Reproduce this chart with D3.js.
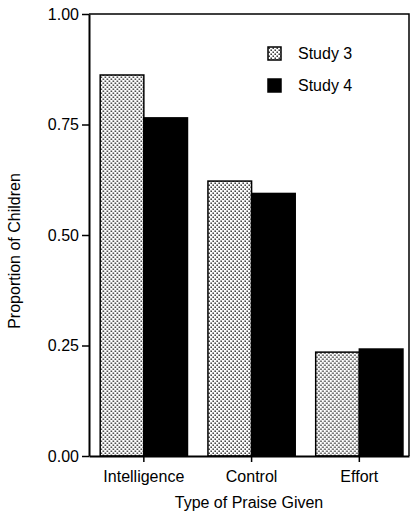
<!DOCTYPE html>
<html>
<head>
<meta charset="utf-8">
<script src="https://cdn.jsdelivr.net/npm/d3@7"></script>
<style>
  body { margin: 0; background: #fff; }
  svg { display: block; font-family: "Liberation Sans", Arial, sans-serif; }
</style>
</head>
<body>
<svg></svg>
<script>
const width = 414;
const height = 512;

const categories = ["Intelligence", "Control", "Effort"];
const seriesNames = ["Study 3", "Study 4"];
const study3 = [0.862, 0.622, 0.235];
const study4 = [0.765, 0.594, 0.242];
const yTicks = [0, 0.25, 0.5, 0.75, 1];

const plotLeft = 89, plotRight = 409, plotTop = 14, plotBottom = 456;

const svg = d3.select("svg")
    .attr("width", width)
    .attr("height", height);

// stipple pattern for Study 3
const defs = svg.append("defs");
const pat = defs.append("pattern")
    .attr("id", "dots")
    .attr("patternUnits", "userSpaceOnUse")
    .attr("width", 4)
    .attr("height", 4);
pat.append("rect").attr("width", 4).attr("height", 4).attr("fill", "#fff");
pat.append("rect").attr("x", 0.5).attr("y", 0.5).attr("width", 1.4).attr("height", 1.4).attr("fill", "#111");
pat.append("rect").attr("x", 2.5).attr("y", 2.5).attr("width", 1.4).attr("height", 1.4).attr("fill", "#111");

const x0 = d3.scaleBand()
    .domain(categories)
    .range([plotLeft, plotRight])
    .paddingInner(0.19)
    .paddingOuter(0.08)
    .align(0.65);

const x1 = d3.scaleBand()
    .domain(seriesNames)
    .range([0, x0.bandwidth()]);

const y = d3.scaleLinear()
    .domain([0, 1])
    .range([plotBottom, plotTop]);

const data = categories.map((c, i) => ({
    category: c,
    values: [
        { series: "Study 3", value: study3[i] },
        { series: "Study 4", value: study4[i] }
    ]
}));

const fill = { "Study 3": "url(#dots)", "Study 4": "#000" };

// frame (top and right)
svg.append("path")
    .attr("d", `M${plotLeft},${plotTop}H${plotRight}V${plotBottom}`)
    .attr("fill", "none")
    .attr("stroke", "#000")
    .attr("stroke-width", 1.5);

const group = svg.selectAll(".group")
    .data(data)
    .enter().append("g")
    .attr("class", "group")
    .attr("transform", d => `translate(${x0(d.category)},0)`);

group.selectAll("rect")
    .data(d => d.values)
    .enter().append("rect")
    .attr("x", d => x1(d.series))
    .attr("y", d => y(d.value))
    .attr("width", x1.bandwidth())
    .attr("height", d => y(0) - y(d.value))
    .attr("fill", d => fill[d.series])
    .attr("stroke", "#000")
    .attr("stroke-width", 1.5);

// y axis
const yAxis = svg.append("g")
    .attr("transform", `translate(${plotLeft},0)`)
    .call(d3.axisLeft(y).tickValues(yTicks).tickFormat(d3.format(".2f")).tickSize(7).tickPadding(3).tickSizeOuter(0));
yAxis.select(".domain").attr("stroke-width", 2);
yAxis.selectAll(".tick line").attr("stroke-width", 1.5);
yAxis.selectAll("text")
    .attr("fill", "#000")
    .style("font-size", "16px")
    .style("font-family", "Liberation Sans, Arial, sans-serif");

// x axis
const xAxis = svg.append("g")
    .attr("transform", `translate(0,${plotBottom})`)
    .call(d3.axisBottom(x0).tickSize(6).tickPadding(9).tickSizeOuter(0));
xAxis.select(".domain").attr("stroke-width", 2);
xAxis.selectAll(".tick line").attr("stroke-width", 1.5);
xAxis.selectAll("text")
    .attr("fill", "#000")
    .style("font-size", "16px")
    .style("font-family", "Liberation Sans, Arial, sans-serif");

// axis titles
svg.append("text")
    .attr("x", (plotLeft + plotRight) / 2)
    .attr("y", 508)
    .attr("text-anchor", "middle")
    .style("font-size", "16px")
    .text("Type of Praise Given");

svg.append("text")
    .attr("transform", "translate(20,251) rotate(-90)")
    .attr("text-anchor", "middle")
    .style("font-size", "16px")
    .text("Proportion of Children");

// legend
const legend = svg.append("g")
    .attr("transform", "translate(268,47)");

const legendItem = legend.selectAll(".legend-item")
    .data(seriesNames)
    .enter().append("g")
    .attr("class", "legend-item")
    .attr("transform", (d, i) => `translate(0,${i * 32})`);

legendItem.append("rect")
    .attr("width", 13)
    .attr("height", 13)
    .attr("fill", d => fill[d])
    .attr("stroke", "#000")
    .attr("stroke-width", 1.5);

legendItem.append("text")
    .attr("x", 30)
    .attr("y", 12)
    .style("font-size", "16px")
    .text(d => d);
</script>
</body>
</html>
